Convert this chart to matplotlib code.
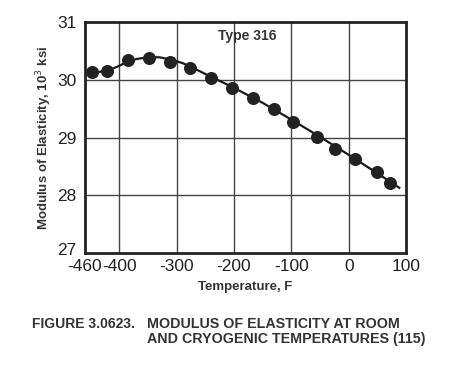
import matplotlib.pyplot as plt
import matplotlib.transforms as mtransforms

# measured points (temperature F, modulus 10^3 ksi)
temp_f = [-448, -422, -384, -349, -311, -276, -241, -203, -167, -130,
          -97, -55, -24, 10, 49, 71]
modulus = [30.14, 30.16, 30.34, 30.38, 30.30, 30.21, 30.03, 29.85, 29.68, 29.50,
           29.27, 29.01, 28.81, 28.63, 28.40, 28.22]

# faired curve
curve_t = [-460, -440, -420, -405, -390, -370, -350, -330, -310, -290,
           -270, -250, -200, -150, -100, -50, 0, 50, 88]
curve_e = [30.11, 30.13, 30.16, 30.22, 30.29, 30.36, 30.39, 30.39, 30.35, 30.29,
           30.20, 30.10, 29.86, 29.60, 29.31, 29.01, 28.70, 28.38, 28.13]

xticks = [-460, -400, -300, -200, -100, 0, 100]
yticks = [27, 28, 29, 30, 31]

plt.rcParams['font.family'] = ['Liberation Sans', 'DejaVu Sans']

fig = plt.figure(figsize=(4.74, 3.8), dpi=100)
ax = fig.add_axes([0.179, 0.334, 0.678, 0.608])

ax.plot(curve_t, curve_e, color='#1a1a1a', linewidth=1.6, zorder=3)
ax.scatter(temp_f, modulus, s=70, color='#222222', zorder=4)

ax.set_xlim(-460, 100)
ax.set_ylim(27, 31)
ax.set_xticks(xticks)
ax.set_yticks(yticks)
ax.set_xticklabels([str(t) for t in xticks], fontsize=12.5, color='#222222')
ax.set_yticklabels([str(t) for t in yticks], fontsize=12.5, color='#222222')
ax.tick_params(axis='x', length=0, pad=4)
ax.tick_params(axis='y', length=0, pad=6)

# nudge the bottom y label up so it clears "-460"
lab27 = ax.get_yticklabels()[0]
lab27.set_transform(lab27.get_transform() +
                    mtransforms.ScaledTranslation(0, 3 / 72, fig.dpi_scale_trans))

for t in xticks[1:-1]:
    ax.axvline(t, color='#444444', linewidth=1.0, zorder=1)
for v in yticks[1:-1]:
    ax.axhline(v, color='#444444', linewidth=1.0, zorder=1)
for s in ax.spines.values():
    s.set_linewidth(2.0)
    s.set_color('#222222')

ax.text(-177, 30.76, 'Type 316', ha='center', va='center', fontsize=10,
        fontweight='bold', color='#333333')

ax.set_xlabel('Temperature, F', fontsize=9.5, fontweight='bold', color='#333333', labelpad=5)
ax.set_ylabel('Modulus of Elasticity, 10$^3$ ksi', fontsize=9.5, fontweight='bold',
              color='#333333', labelpad=2)

fig.text(0.068, 0.147, 'FIGURE 3.0623.', fontsize=10, fontweight='bold', color='#333333',
         va='center')
fig.text(0.31, 0.147, 'MODULUS OF ELASTICITY AT ROOM', fontsize=10.3, fontweight='bold',
         color='#333333', va='center')
fig.text(0.31, 0.108, 'AND CRYOGENIC TEMPERATURES (115)', fontsize=10.3, fontweight='bold',
         color='#333333', va='center')

fig.savefig('out.png', dpi=100)
